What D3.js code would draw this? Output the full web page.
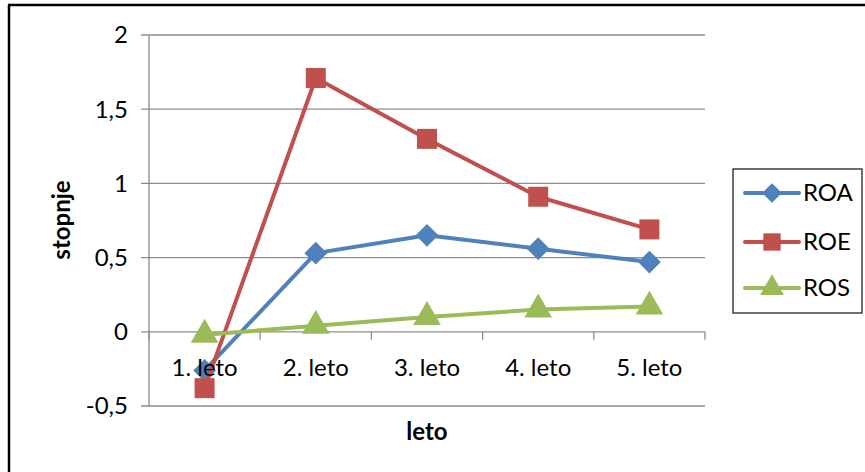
<!DOCTYPE html>
<html><head><meta charset="utf-8">
<script src="https://cdn.jsdelivr.net/npm/d3@7"></script>
<style>body{margin:0;background:#fff}svg{display:block;font-family:Lato,"Open Sans",sans-serif}</style>
</head><body><svg id="c" width="865" height="472"></svg>
<script>
const categories = ["1. leto","2. leto","3. leto","4. leto","5. leto"];
const roa = [-0.26, 0.53, 0.65, 0.56, 0.47];
const roe = [-0.38, 1.71, 1.30, 0.91, 0.69];
const ros = [-0.02, 0.04, 0.10, 0.15, 0.17];
const yTicks = [-0.5, 0, 0.5, 1, 1.5, 2];
const seriesNames = ["ROA","ROE","ROS"];
const colors = ["#4F81BD","#C0504D","#9BBB59"];
const symbols = [d3.symbolDiamond2, d3.symbolSquare, d3.symbolTriangle];

const svg = d3.select("#c");
const L = 149, R = 705, T = 35, B = 406;
const FS = 24;
const x = d3.scaleBand().domain(categories).range([L, R]);
const y = d3.scaleLinear().domain([-0.5, 2]).range([B, T]);
const fmt = v => String(v).replace(".", ",");

// outer border (left & top)
svg.append("line").attr("x1",9).attr("x2",9).attr("y1",5).attr("y2",472).attr("stroke","#000").attr("stroke-width",2.5);
svg.append("line").attr("x1",8).attr("x2",865).attr("y1",5).attr("y2",5).attr("stroke","#000").attr("stroke-width",2.5);

// gridlines
svg.append("g").selectAll("line").data(yTicks).join("line")
  .attr("x1", L-8).attr("x2", R).attr("y1", d=>y(d)).attr("y2", d=>y(d))
  .attr("stroke","#8c8c8c").attr("stroke-width",1.3);
// y axis
svg.append("line").attr("x1",L).attr("x2",L).attr("y1",T).attr("y2",B).attr("stroke","#8c8c8c").attr("stroke-width",1.3);
svg.append("g").selectAll("text").data(yTicks).join("text")
  .attr("x", 128).attr("y", d=>y(d)).attr("dy","0.35em").attr("text-anchor","end")
  .attr("font-size",FS).attr("fill","#000").text(fmt);
// x ticks at band boundaries on zero line
const bounds = categories.map(c=>x(c)).concat([R]);
svg.append("g").selectAll("line").data(bounds).join("line")
  .attr("x1", d=>d).attr("x2", d=>d).attr("y1", y(0)).attr("y2", y(0)+8)
  .attr("stroke","#8c8c8c").attr("stroke-width",1.3);

// series
const data = [roa, roe, ros];
const line = d3.line().x((d,i)=>x(categories[i])+x.bandwidth()/2).y(d=>y(d));
const symSizes = [330, 400, 330];
data.forEach((vals, s) => {
  svg.append("path").datum(vals).attr("d", line).attr("fill","none")
    .attr("stroke", colors[s]).attr("stroke-width",4).attr("stroke-linejoin","round");
  svg.append("g").selectAll("path").data(vals).join("path")
    .attr("transform",(d,i)=>`translate(${x(categories[i])+x.bandwidth()/2},${y(d)})`)
    .attr("d", d3.symbol().type(symbols[s]).size(symSizes[s])).attr("fill", colors[s]);
});

// category labels
svg.append("g").selectAll("text").data(categories).join("text")
  .attr("x", d=>x(d)+x.bandwidth()/2).attr("y", 376).attr("text-anchor","middle")
  .attr("font-size",FS).attr("fill","#000").text(d=>d);

// axis titles
svg.append("text").attr("x", (L+R)/2).attr("y", 440).attr("text-anchor","middle")
  .attr("font-size",FS).attr("font-weight","bold").text("leto");
svg.append("text").attr("transform","translate(70,220) rotate(-90)").attr("text-anchor","middle")
  .attr("font-size",FS).attr("font-weight","bold").text("stopnje");

// legend
svg.append("rect").attr("x",733).attr("y",169).attr("width",129).attr("height",144)
  .attr("fill","#fff").attr("stroke","#222").attr("stroke-width",1.3);
const ly = [193, 242, 288];
seriesNames.forEach((n, s) => {
  svg.append("line").attr("x1",745).attr("x2",799).attr("y1",ly[s]).attr("y2",ly[s])
    .attr("stroke",colors[s]).attr("stroke-width",4).attr("stroke-linecap","round");
  svg.append("path").attr("transform",`translate(772,${ly[s]})`)
    .attr("d", d3.symbol().type(symbols[s]).size(symSizes[s]*0.75)).attr("fill",colors[s]);
  svg.append("text").attr("x",803).attr("y",ly[s]).attr("dy","0.35em").attr("font-size",FS).text(n);
});
</script></body></html>
